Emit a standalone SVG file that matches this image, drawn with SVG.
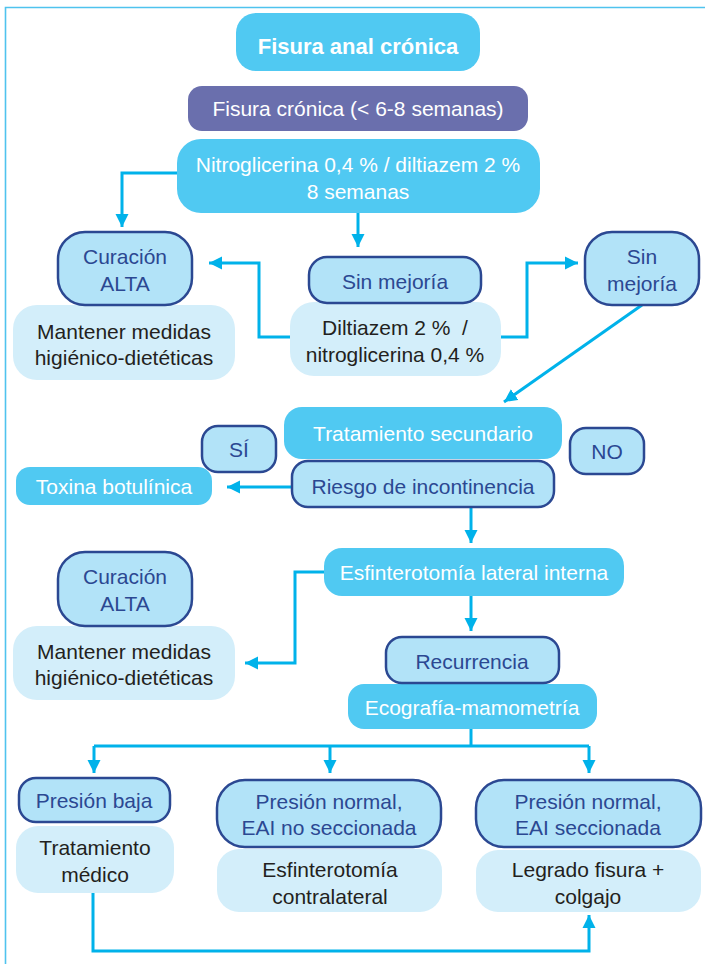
<svg xmlns="http://www.w3.org/2000/svg" width="705" height="964" viewBox="0 0 705 964">
<style>
  .cyan{fill:#50c9f2;}
  .purple{fill:#6a6fad;}
  .lb{fill:#b2e3f8;stroke:#2b4892;stroke-width:2.5;}
  .pale{fill:#d3eefa;}
  text{font-family:"Liberation Sans",Arial,sans-serif;font-size:21px;text-anchor:middle;}
  .w{fill:#ffffff;}
  .d{fill:#2b4892;}
  .k{fill:#231f20;}
  .b{font-weight:bold;font-size:22px;}
  .conn path{fill:none;stroke:#00b2ea;stroke-width:3;}
</style>
<defs>
  <marker id="ah" markerUnits="userSpaceOnUse" markerWidth="14" markerHeight="14" refX="13" refY="7" orient="auto">
    <path d="M0,0.5 L13,7 L0,13.5 z" fill="#00b2ea"/>
  </marker>
</defs>
<rect width="705" height="964" fill="#ffffff"/>
<path d="M5.5,964 V7.5 H705" fill="none" stroke="#4fc3ee" stroke-width="1.6"/>

<g class="conn" id="connectors">
  <path d="M177,173 H122 V227" marker-end="url(#ah)"/>
  <path d="M358,213 V247" marker-end="url(#ah)"/>
  <path d="M290,337 H259 V263 H209" marker-end="url(#ah)"/>
  <path d="M501,337 H527 V263 H578" marker-end="url(#ah)"/>
  <path d="M642,305 L504,402" marker-end="url(#ah)"/>
  <path d="M292,487 H227" marker-end="url(#ah)"/>
  <path d="M471,507 V543" marker-end="url(#ah)"/>
  <path d="M324,572 H295 V663 H245" marker-end="url(#ah)"/>
  <path d="M471,596 V631" marker-end="url(#ah)"/>
  <path d="M471,729 V746"/>
  <path d="M94,746 H589"/>
  <path d="M94,746 V773" marker-end="url(#ah)"/>
  <path d="M330,746 V773" marker-end="url(#ah)"/>
  <path d="M589,746 V773" marker-end="url(#ah)"/>
  <path d="M93,893 V951 H589 V915" marker-end="url(#ah)"/>
</g>

<g id="fisura-anal">
  <rect class="cyan" x="236" y="13" width="244" height="58" rx="20"/>
  <text class="w b" x="358" y="54">Fisura anal crónica</text>
</g>
<g id="fisura-cronica">
  <rect class="purple" x="188" y="86" width="340" height="45" rx="14"/>
  <text class="w" x="358" y="116">Fisura crónica (&lt; 6-8 semanas)</text>
</g>
<g id="nitro">
  <rect class="cyan" x="177" y="139" width="363" height="74" rx="24"/>
  <text class="w" x="358" y="172">Nitroglicerina 0,4 % / diltiazem 2 %</text>
  <text class="w" x="358" y="199">8 semanas</text>
</g>

<g id="mantener1">
  <rect class="pale" x="13" y="305" width="222" height="75" rx="24"/>
  <text class="k" x="124" y="339">Mantener medidas</text>
  <text class="k" x="124" y="365">higiénico-dietéticas</text>
</g>
<g id="curacion1">
  <rect class="lb" x="58" y="232" width="134" height="73" rx="27"/>
  <text class="d" x="125" y="264">Curación</text>
  <text class="d" x="125" y="291">ALTA</text>
</g>

<g id="diltiazem">
  <rect class="pale" x="290" y="302" width="211" height="74" rx="24"/>
  <text class="k" x="395" y="335" xml:space="preserve">Diltiazem 2 %  /</text>
  <text class="k" x="395" y="362">nitroglicerina 0,4 %</text>
</g>
<g id="sin-mejoria1">
  <rect class="lb" x="309" y="257" width="172" height="46" rx="18"/>
  <text class="d" x="395" y="289">Sin mejoría</text>
</g>
<g id="sin-mejoria2">
  <rect class="lb" x="585" y="232" width="114" height="73" rx="27"/>
  <text class="d" x="642" y="264">Sin</text>
  <text class="d" x="642" y="291">mejoría</text>
</g>

<g id="tratamiento-secundario">
  <rect class="cyan" x="284" y="407" width="278" height="52" rx="18"/>
  <text class="w" x="423" y="441">Tratamiento secundario</text>
</g>
<g id="si">
  <rect class="lb" x="202" y="426" width="74" height="46" rx="16"/>
  <text class="d" x="239" y="457">SÍ</text>
</g>
<g id="no">
  <rect class="lb" x="570" y="428" width="74" height="46" rx="16"/>
  <text class="d" x="607" y="459">NO</text>
</g>
<g id="riesgo">
  <rect class="lb" x="292" y="461" width="262" height="46" rx="16"/>
  <text class="d" x="423" y="494">Riesgo de incontinencia</text>
</g>
<g id="toxina">
  <rect class="cyan" x="16" y="467" width="196" height="38" rx="14"/>
  <text class="w" x="114" y="494">Toxina botulínica</text>
</g>

<g id="esfinterotomia">
  <rect class="cyan" x="324" y="548" width="300" height="48" rx="18"/>
  <text class="w" x="474" y="580">Esfinterotomía lateral interna</text>
</g>
<g id="mantener2">
  <rect class="pale" x="13" y="626" width="222" height="74" rx="24"/>
  <text class="k" x="124" y="659">Mantener medidas</text>
  <text class="k" x="124" y="685">higiénico-dietéticas</text>
</g>
<g id="curacion2">
  <rect class="lb" x="58" y="552" width="134" height="74" rx="27"/>
  <text class="d" x="125" y="584">Curación</text>
  <text class="d" x="125" y="611">ALTA</text>
</g>

<g id="ecografia">
  <rect class="cyan" x="348" y="684" width="249" height="45" rx="16"/>
  <text class="w" x="472" y="715">Ecografía-mamometría</text>
</g>
<g id="recurrencia">
  <rect class="lb" x="386" y="637" width="173" height="46" rx="16"/>
  <text class="d" x="472" y="669">Recurrencia</text>
</g>

<g id="tratamiento-medico">
  <rect class="pale" x="16" y="826" width="158" height="67" rx="22"/>
  <text class="k" x="95" y="855">Tratamiento</text>
  <text class="k" x="95" y="882">médico</text>
</g>
<g id="presion-baja">
  <rect class="lb" x="19" y="778" width="151" height="44" rx="17"/>
  <text class="d" x="94" y="808">Presión baja</text>
</g>

<g id="esf-contralateral">
  <rect class="pale" x="217" y="849" width="225" height="63" rx="22"/>
  <text class="k" x="330" y="877">Esfinterotomía</text>
  <text class="k" x="330" y="904">contralateral</text>
</g>
<g id="presion-normal-no">
  <rect class="lb" x="217" y="780" width="224" height="67" rx="28"/>
  <text class="d" x="329" y="809">Presión normal,</text>
  <text class="d" x="329" y="835">EAI no seccionada</text>
</g>

<g id="legrado">
  <rect class="pale" x="476" y="850" width="225" height="62" rx="22"/>
  <text class="k" x="588" y="877">Legrado fisura +</text>
  <text class="k" x="588" y="904">colgajo</text>
</g>
<g id="presion-normal-si">
  <rect class="lb" x="476" y="780" width="225" height="67" rx="28"/>
  <text class="d" x="588" y="809">Presión normal,</text>
  <text class="d" x="588" y="835">EAI seccionada</text>
</g>
</svg>
